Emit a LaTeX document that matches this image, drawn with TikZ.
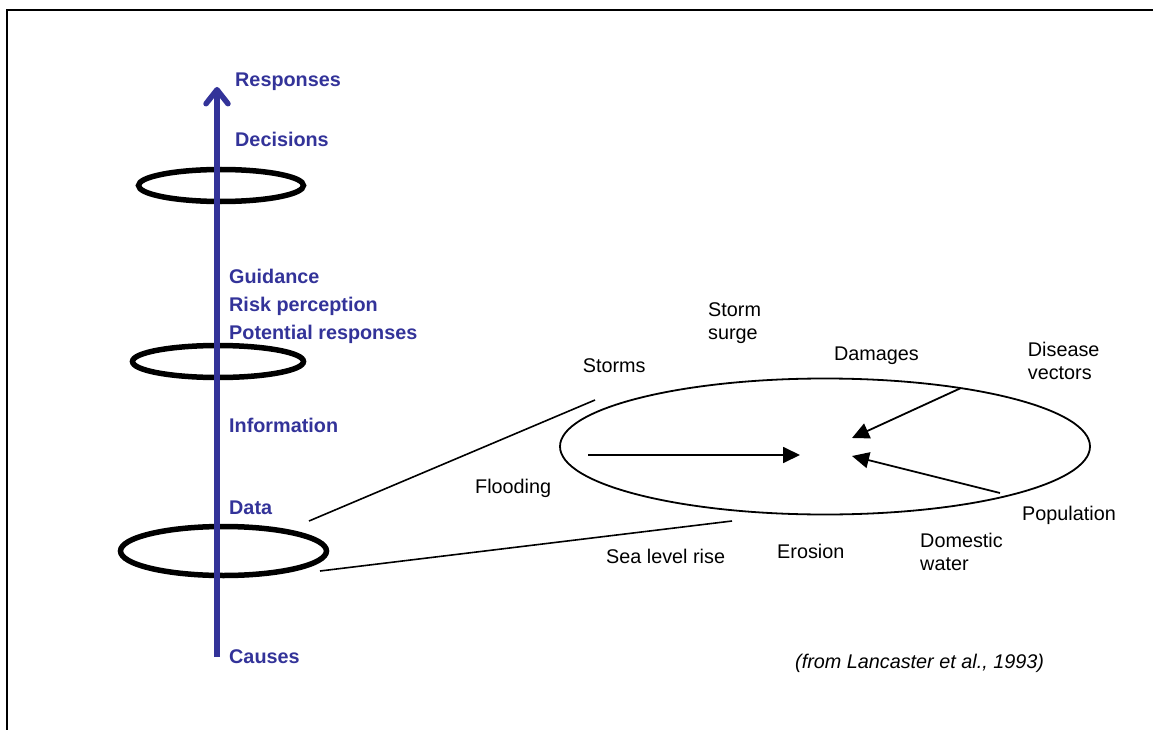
\documentclass[tikz,border=0pt]{standalone}
\usepackage{fontspec}
\setmainfont{Liberation Sans}
\usepackage{xcolor}
\usepackage{tikz}
\usetikzlibrary{arrows.meta, positioning, calc}

\definecolor{axisblue}{RGB}{51,51,153}

\tikzset{
  lbl/.style={inner sep=0pt, anchor=base west, font=\fontsize{19.8}{23}\selectfont},
  bluelbl/.style={lbl, text=axisblue, font=\fontsize{19.8}{23}\selectfont\bfseries},
  twolbl/.style={lbl, anchor=north west, align=left},
  ring/.style={line width=5.5pt},
  thinline/.style={line width=1.8pt},
  pointer/.style={thinline, -{Triangle[length=17pt, width=16pt]}}
}

\begin{document}
\begin{tikzpicture}[x=1pt, y=-1pt]
\useasboundingbox (0,0) rectangle (1153,730);

%//frame, only top and left edge show
\draw[line width=2pt] (7,730) -- (7,10) -- (1153,10);

%//rings round the axis
\draw[ring] (221,185.5) ellipse [x radius=82.5pt, y radius=16pt];
\draw[ring] (218,361.5) ellipse [x radius=85.5pt, y radius=16pt];
\draw[ring] (223.5,551) ellipse [x radius=103pt, y radius=24.5pt];

%//the axis
\coordinate (axisBottom) at (217,657);
\coordinate (axisTop) at (217,87);
\draw[axisblue, line width=5.5pt, -{Straight Barb[round, length=14pt, width=22pt]}] (axisBottom) -- (axisTop);

\foreach \x/\y/\nm/\val in {235/87/resp/Responses, 235/147/dec/Decisions,
  229/283/guid/Guidance, 229/311/risk/Risk perception,
  229/339/pot/Potential responses, 229/432/info/Information,
  229/514/data/Data, 229/663/causes/Causes}
\node [bluelbl] (\nm) at (\x,\y) {\val};

%//zoomed view
\draw[thinline] (825,446.5) ellipse [x radius=265pt, y radius=68pt];

\coordinate (dataUp) at (309,521);
\coordinate (dataDown) at (320,571);
\coordinate (viewUp) at (595,400);
\coordinate (viewDown) at (732,521);
\draw[line width=1.6pt] (dataUp) -- (viewUp);
\draw[line width=1.6pt] (dataDown) -- (viewDown);

\coordinate (floodStart) at (588,455);
\coordinate (floodEnd) at (800,455);
\coordinate (vecStart) at (961,388);
\coordinate (vecEnd) at (852,438);
\coordinate (popStart) at (1000,493);
\coordinate (popEnd) at (852,456);
\draw[pointer] (floodStart) -- (floodEnd);
\draw[pointer] (vecStart) -- (vecEnd);
\draw[pointer] (popStart) -- (popEnd);

\foreach \x/\y/\nm/\val in {582.7/372.3/storms/Storms, 833.8/360/dam/Damages,
  1022/520/pop/Population, 777/558.3/eros/Erosion,
  606/563.3/sea/Sea level rise, 475/493/flood/Flooding}
\node [lbl] (\nm) at (\x,\y) {\val};

\node [twolbl] (surge) at (708,302.4) {Storm\\surge};
\node [twolbl] (disease) at (1027.7,342.4) {Disease\\vectors};
\node [twolbl] (water) at (920,533) {Domestic\\water};

\node [lbl, font=\fontsize{19.8}{23}\selectfont\itshape] (source) at (795,668.3) {(from Lancaster et al., 1993)};
\end{tikzpicture}
\end{document}
